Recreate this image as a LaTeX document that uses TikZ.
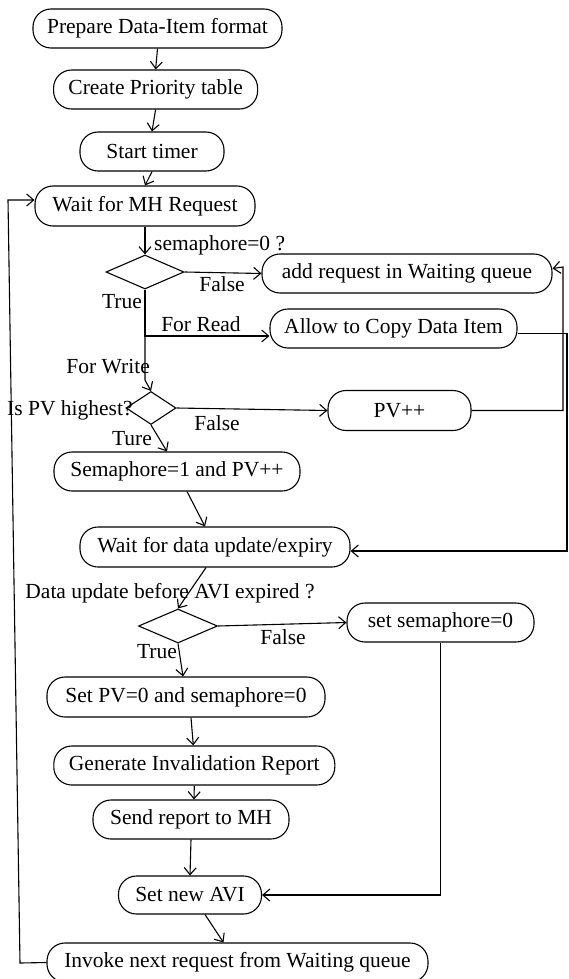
\documentclass[tikz,border=0pt]{standalone}
\usepackage{fontspec}
\setmainfont{Liberation Serif}
\usetikzlibrary{arrows.meta,shapes.geometric,calc}
\begin{document}
\begin{tikzpicture}[x=1pt,y=-1pt,
  every node/.style={font=\fontsize{21.5}{24}\selectfont},
  proc/.style={draw,line width=1.1pt,rounded corners=18pt,inner sep=0pt,minimum height=39pt},
  dec/.style={draw,line width=1.1pt,diamond,inner sep=0pt},
  lab/.style={inner sep=0pt},
  arr/.style={line width=1.1pt,-{Straight Barb[length=7pt,width=12pt]}},
  ln/.style={line width=1.1pt}]
\useasboundingbox (0,0) rectangle (568,979);
% process nodes
\node[proc,minimum width=249pt] (prep) at (157.5,28.5) {Prepare Data-Item format};
\node[proc,minimum width=204pt] (prio) at (155.6,89.5) {Create Priority table};
\node[proc,minimum width=144pt] (timer) at (152,151.5) {Start timer};
\node[proc,minimum width=220pt,minimum height=40pt] (waitmh) at (145,206) {Wait for MH Request};
\node[dec,minimum width=78pt,minimum height=34pt] (d1) at (145,272) {};
\node[proc,minimum width=290pt] (addq) at (407,273.5) {add request in Waiting queue};
\node[proc,minimum width=247pt] (allow) at (393.5,328.5) {Allow to Copy Data Item};
\node[dec,minimum width=50pt,minimum height=33pt] (d2) at (151,408) {};
\node[proc,minimum width=143pt,minimum height=40pt] (pvpp) at (399.5,410.5) {PV++};
\node[proc,minimum width=246pt] (sem1) at (177,471.5) {Semaphore=1 and PV++};
\node[proc,minimum width=270pt,minimum height=40pt] (waitdu) at (215,547) {Wait for data update/expiry};
\node[dec,minimum width=79pt,minimum height=34pt] (d3) at (178,626) {};
\node[proc,minimum width=187pt] (setsem) at (440.5,622.5) {set semaphore=0};
\node[proc,minimum width=278pt,minimum height=40pt] (setpv) at (186,697) {Set PV=0 and semaphore=0};
\node[proc,minimum width=281pt] (gen) at (194.3,765.5) {Generate Invalidation Report};
\node[proc,minimum width=196pt] (send) at (191,819.5) {Send report to MH};
\node[proc,minimum width=143pt,minimum height=38pt] (avi) at (190,895) {Set new AVI};
\node[proc,minimum width=381pt] (invoke) at (237.5,962.5) {Invoke next request from Waiting queue};
% helper coordinates
\coordinate (j1) at (145,336);
\coordinate (j2) at (145,380);
\coordinate (r1) at (563,267);
\coordinate (r2) at (567,551);
\coordinate (l1) at (20,963);
\coordinate (l2) at (8,200);
% connectors
\draw[arr] (prep.south) -- (prio.north);
\draw[arr] (prio.south) -- (timer.north);
\draw[arr] (timer.south) -- (waitmh.north);
\draw[arr] (waitmh.south) -- (d1.north);
\draw[arr] (d1.east) -- (addq.west);
\draw[arr] (d1.south) -- (j1) -- (allow.west |- j1);
\draw[arr] (j1) -- (j2) -- (d2.north);
\draw[arr] (d2.east) -- (pvpp.west);
\draw[arr] (d2.south) -- ([xshift=-10pt]sem1.north);
\draw[arr] ([xshift=10pt]sem1.south) -- ([xshift=-10pt]waitdu.north);
\draw[arr] ([xshift=-9pt]waitdu.south) -- (d3.north);
\draw[arr] (d3.east) -- (setsem.west);
\draw[arr] (d3.south) -- ([xshift=-3pt]setpv.north);
\draw[arr] ([xshift=5pt]setpv.south) -- ([xshift=-1pt]gen.north);
\draw[arr] (gen.south) -- ([xshift=3pt]send.north);
\draw[arr] (send.south) -- (avi.north);
\draw[arr] ([xshift=15pt]avi.south) -- ([xshift=-14pt]invoke.north);
\draw[arr] (invoke.west) -- (l1) -- (l2) -- (l2 -| waitmh.west);
\draw[arr] (pvpp.east) -| (r1) -- ([yshift=5pt]addq.east);
\draw[arr] ([yshift=-5pt]allow.east) -| (r2) -- ([yshift=-4pt]waitdu.east);
\draw[arr] (setsem.south) |- (avi.east);
% labels
\node[lab,anchor=west] (lsem) at (154,245) {semaphore=0 ?};
\node[lab] (lf1) at (222,284) {False};
\node[lab] (lt1) at (122,302) {True};
\node[lab] (lread) at (201,324) {For Read};
\node[lab,anchor=east] (lwrite) at (150,367) {For Write};
\node[lab,anchor=west] (lpv) at (7,410) {Is PV highest?};
\node[lab] (lf2) at (217,423) {False};
\node[lab] (lture) at (132,439) {Ture};
\node[lab] (ldata) at (170,593) {Data update before AVI expired ?};
\node[lab] (lf3) at (283,637) {False};
\node[lab] (lt3) at (157,652) {True};
\end{tikzpicture}
\end{document}
